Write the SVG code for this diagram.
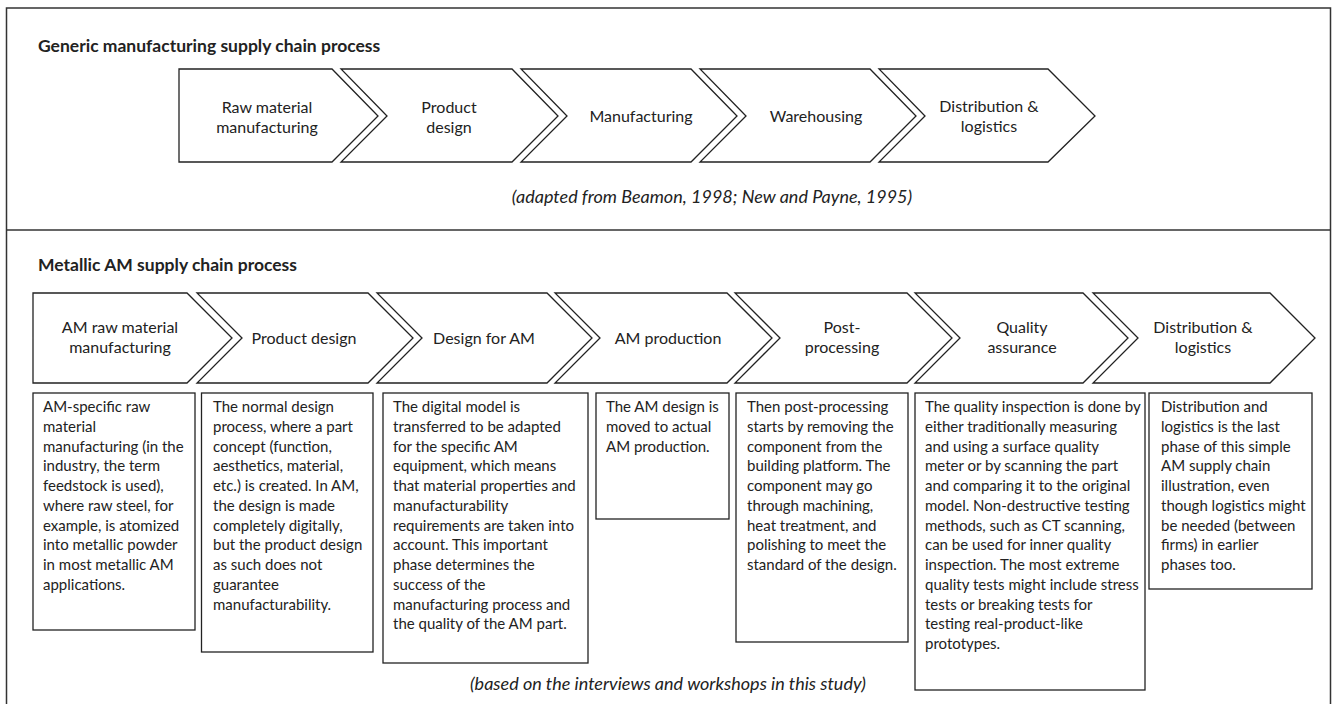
<svg xmlns="http://www.w3.org/2000/svg" width="1335" height="704" viewBox="0 0 1335 704">
<style>
.frame{fill:none;stroke:#333;stroke-width:1.5}
.chev{fill:#fff;stroke:#222;stroke-width:1.3;stroke-linejoin:miter}
.box{fill:#fff;stroke:#222;stroke-width:1.3}
text{font-family:Lato,"Liberation Sans",sans-serif;fill:#222}
.lbl{font-size:16px;text-anchor:middle}
.body{font-size:15px}
.title{font-size:17.5px;font-weight:bold}
.cite{font-size:18px;font-style:italic;text-anchor:middle}
</style>
<rect x="0" y="0" width="1335" height="704" fill="#fff"/>
<g id="frame">
<rect class="frame" x="6.5" y="8" width="1324" height="710"/>
<line class="frame" x1="6.5" y1="230" x2="1330.5" y2="230"/>
</g>
<g id="connectors"></g>
<g id="generic">
<text class="title" x="38" y="52">Generic manufacturing supply chain process</text>
<g id="g1"><polygon class="chev" points="179,69 332,69 378,116 332,162 179,162"/><text class="lbl"><tspan x="267" y="113">Raw material</tspan><tspan x="267" y="133">manufacturing</tspan></text></g>
<g id="g2"><polygon class="chev" points="341,69 512,69 558,116 512,162 341,162 387,116"/><text class="lbl"><tspan x="449" y="113">Product</tspan><tspan x="449" y="133">design</tspan></text></g>
<g id="g3"><polygon class="chev" points="521,69 691,69 737,116 691,162 521,162 567,116"/><text class="lbl" x="641" y="122">Manufacturing</text></g>
<g id="g4"><polygon class="chev" points="700,69 870,69 916,116 870,162 700,162 746,116"/><text class="lbl" x="816" y="122">Warehousing</text></g>
<g id="g5"><polygon class="chev" points="879,69 1048,69 1095,116 1048,162 879,162 925,116"/><text class="lbl"><tspan x="989" y="112">Distribution &amp;</tspan><tspan x="989" y="132">logistics</tspan></text></g>
<text class="cite" x="712" y="203">(adapted from Beamon, 1998; New and Payne, 1995)</text>
</g>
<g id="metallic">
<text class="title" x="38" y="271">Metallic AM supply chain process</text>
<g id="m1"><polygon class="chev" points="33,293 187,293 232,338 187,383 33,383"/><text class="lbl"><tspan x="120" y="333">AM raw material</tspan><tspan x="120" y="353">manufacturing</tspan></text></g>
<g id="m2"><polygon class="chev" points="197,293 368,293 413,338 368,383 197,383 242,338"/><text class="lbl" x="304" y="344">Product design</text></g>
<g id="m3"><polygon class="chev" points="377,293 547,293 592,338 547,383 377,383 422,338"/><text class="lbl" x="484" y="344">Design for AM</text></g>
<g id="m4"><polygon class="chev" points="555,293 727,293 772,338 727,383 555,383 600,338"/><text class="lbl" x="668" y="344">AM production</text></g>
<g id="m5"><polygon class="chev" points="735,293 907,293 952,338 907,383 735,383 780,338"/><text class="lbl"><tspan x="842" y="333">Post-</tspan><tspan x="842" y="353">processing</tspan></text></g>
<g id="m6"><polygon class="chev" points="915,293 1083,293 1128,338 1083,383 915,383 960,338"/><text class="lbl"><tspan x="1022" y="333">Quality</tspan><tspan x="1022" y="353">assurance</tspan></text></g>
<g id="m7"><polygon class="chev" points="1093,293 1270,293 1315,338 1270,383 1093,383 1138,338"/><text class="lbl"><tspan x="1203" y="333">Distribution &amp;</tspan><tspan x="1203" y="353">logistics</tspan></text></g>
</g>
<g id="d1"><rect class="box" x="33" y="393" width="162" height="237"/>
<text class="body"><tspan x="43" y="412">AM-specific raw</tspan><tspan x="43" dy="19.75">material</tspan><tspan x="43" dy="19.75">manufacturing (in the</tspan><tspan x="43" dy="19.75">industry, the term</tspan><tspan x="43" dy="19.75">feedstock is used),</tspan><tspan x="43" dy="19.75">where raw steel, for</tspan><tspan x="43" dy="19.75">example, is atomized</tspan><tspan x="43" dy="19.75">into metallic powder</tspan><tspan x="43" dy="19.75">in most metallic AM</tspan><tspan x="43" dy="19.75">applications.</tspan></text></g>
<g id="d2"><rect class="box" x="201.5" y="393" width="171.5" height="259"/>
<text class="body"><tspan x="213" y="412">The normal design</tspan><tspan x="213" dy="19.75">process, where a part</tspan><tspan x="213" dy="19.75">concept (function,</tspan><tspan x="213" dy="19.75">aesthetics, material,</tspan><tspan x="213" dy="19.75">etc.) is created. In AM,</tspan><tspan x="213" dy="19.75">the design is made</tspan><tspan x="213" dy="19.75">completely digitally,</tspan><tspan x="213" dy="19.75">but the product design</tspan><tspan x="213" dy="19.75">as such does not</tspan><tspan x="213" dy="19.75">guarantee</tspan><tspan x="213" dy="19.75">manufacturability.</tspan></text></g>
<g id="d3"><rect class="box" x="383" y="393" width="205" height="270"/>
<text class="body"><tspan x="393" y="412">The digital model is</tspan><tspan x="393" dy="19.75">transferred to be adapted</tspan><tspan x="393" dy="19.75">for the specific AM</tspan><tspan x="393" dy="19.75">equipment, which means</tspan><tspan x="393" dy="19.75">that material properties and</tspan><tspan x="393" dy="19.75">manufacturability</tspan><tspan x="393" dy="19.75">requirements are taken into</tspan><tspan x="393" dy="19.75">account. This important</tspan><tspan x="393" dy="19.75">phase determines the</tspan><tspan x="393" dy="19.75">success of the</tspan><tspan x="393" dy="19.75">manufacturing process and</tspan><tspan x="393" dy="19.75">the quality of the AM part.</tspan></text></g>
<g id="d4"><rect class="box" x="596" y="393" width="133" height="126"/>
<text class="body"><tspan x="606" y="412">The AM design is</tspan><tspan x="606" dy="19.75">moved to actual</tspan><tspan x="606" dy="19.75">AM production.</tspan></text></g>
<g id="d5"><rect class="box" x="736" y="393" width="172" height="249"/>
<text class="body"><tspan x="747" y="412">Then post-processing</tspan><tspan x="747" dy="19.75">starts by removing the</tspan><tspan x="747" dy="19.75">component from the</tspan><tspan x="747" dy="19.75">building platform. The</tspan><tspan x="747" dy="19.75">component may go</tspan><tspan x="747" dy="19.75">through machining,</tspan><tspan x="747" dy="19.75">heat treatment, and</tspan><tspan x="747" dy="19.75">polishing to meet the</tspan><tspan x="747" dy="19.75">standard of the design.</tspan></text></g>
<g id="d6"><rect class="box" x="915" y="393" width="230" height="297"/>
<text class="body"><tspan x="925" y="412">The quality inspection is done by</tspan><tspan x="925" dy="19.75">either traditionally measuring</tspan><tspan x="925" dy="19.75">and using a surface quality</tspan><tspan x="925" dy="19.75">meter or by scanning the part</tspan><tspan x="925" dy="19.75">and comparing it to the original</tspan><tspan x="925" dy="19.75">model. Non-destructive testing</tspan><tspan x="925" dy="19.75">methods, such as CT scanning,</tspan><tspan x="925" dy="19.75">can be used for inner quality</tspan><tspan x="925" dy="19.75">inspection. The most extreme</tspan><tspan x="925" dy="19.75">quality tests might include stress</tspan><tspan x="925" dy="19.75">tests or breaking tests for</tspan><tspan x="925" dy="19.75">testing real-product-like</tspan><tspan x="925" dy="19.75">prototypes.</tspan></text></g>
<g id="d7"><rect class="box" x="1149" y="393" width="163" height="196"/>
<text class="body"><tspan x="1161" y="412">Distribution and</tspan><tspan x="1161" dy="19.75">logistics is the last</tspan><tspan x="1161" dy="19.75">phase of this simple</tspan><tspan x="1161" dy="19.75">AM supply chain</tspan><tspan x="1161" dy="19.75">illustration, even</tspan><tspan x="1161" dy="19.75">though logistics might</tspan><tspan x="1161" dy="19.75">be needed (between</tspan><tspan x="1161" dy="19.75">firms) in earlier</tspan><tspan x="1161" dy="19.75">phases too.</tspan></text></g>
<text class="cite" x="668" y="690">(based on the interviews and workshops in this study)</text>
</svg>
